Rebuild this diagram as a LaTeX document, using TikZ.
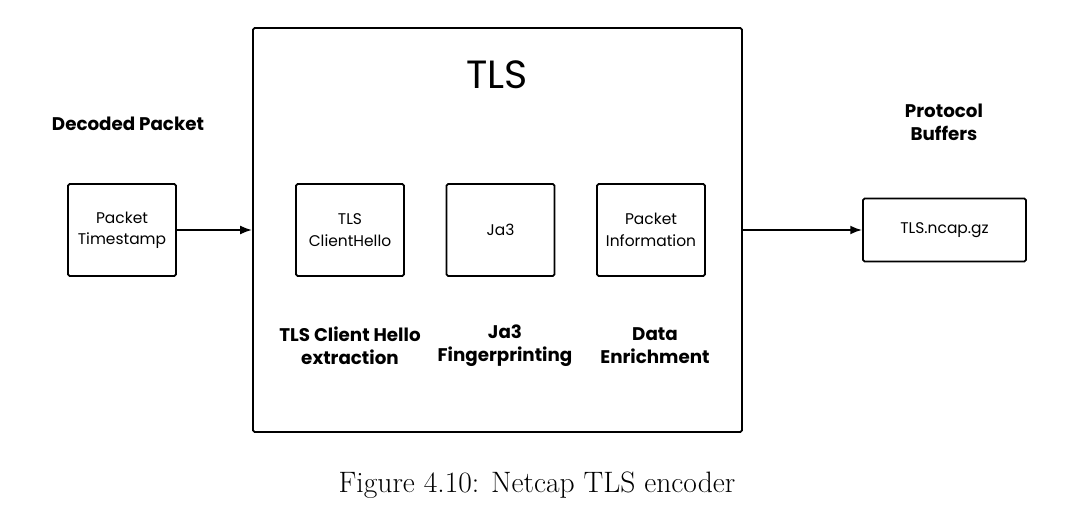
\documentclass[tikz,border=0pt]{standalone}
\usepackage{fontspec}
\setsansfont{Poppins}
\usetikzlibrary{arrows.meta,positioning}
\tikzset {>=Latex}
\tikzset{
  block/.style={draw,line width=1.3pt,rounded corners=1.2pt,
    minimum width=2.7cm,minimum height=2.3cm,align=center,
    font=\sffamily\fontsize{11}{15.2}\selectfont},
  stage/.style={align=center,
    font=\sffamily\bfseries\fontsize{13}{16.2}\selectfont},
  flow/.style={->,line width=1.2pt}
}

\begin{document}
\begin{tikzpicture}[x=0.025cm,y=-0.025cm]
\useasboundingbox (0,0) rectangle (1090,517);
% outer encoder box
\node (tls) [draw,line width=1.3pt,rounded corners=1.2pt,
  minimum width=12.225cm,minimum height=10.1cm] at (497.5,230) {};
\node (title) [font=\sffamily\fontsize{28}{32}\selectfont] at (497,75) {TLS};
% input side
\node (decoded) [stage] at (128,124) {Decoded Packet};
\node (stamp) [block] at (122,230) {Packet\\Timestamp};
% inner steps
\node (hello) [block] at (350,230) {TLS\\ClientHello};
\node (ja3) [block] at (500.5,230) {Ja3};
\node (info) [block] at (651,230) {Packet\\Information};
\node (extract) [stage] at (350,346) {TLS Client Hello\\extraction};
\node (finger) [stage] at (505,346) {Ja3\\Fingerprinting};
\node (enrich) [stage] at (655,346) {Data\\Enrichment};
% output side
\node (proto) [stage] at (944,122) {Protocol\\Buffers};
\node (ncap) [block,minimum width=4.075cm,minimum height=1.575cm]
  at (944.5,230) {TLS.ncap.gz};
\draw[flow] (stamp.east) -- (tls.west |- stamp.east);
\draw[flow] (tls.east |- ncap.west) -- (ncap.west);
% caption
\node (caption) [font=\fontsize{21}{24}\selectfont] at (537,485)
  {Figure 4.10: Netcap TLS encoder};
\end{tikzpicture}
\end{document}
